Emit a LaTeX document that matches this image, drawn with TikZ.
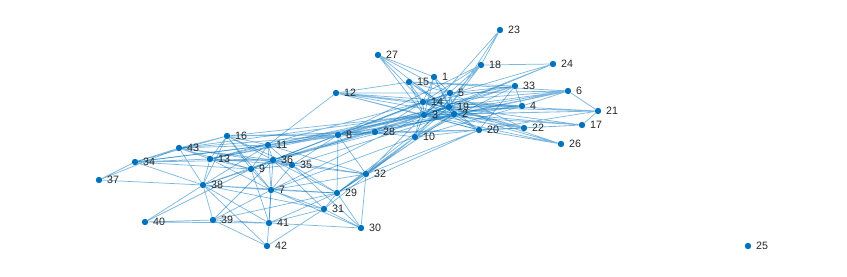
\documentclass[tikz,border=0pt]{standalone}
\usepackage{fontspec}
\setmainfont{Liberation Sans}
\usepackage{tikz}
\definecolor{nodeblue}{RGB}{0,114,189}
\definecolor{labelgray}{RGB}{38,38,38}
\pgfdeclarelayer{background}
\pgfsetlayers{background,main}

\begin{document}
\begin{tikzpicture}[x=0.75pt, y=-0.75pt,
  vertex/.style={circle, fill=nodeblue, inner sep=0pt, minimum size=4.8pt, label distance=-0.5pt},
  link/.style={nodeblue, draw opacity=0.5, line width=0.55pt},
  every label/.style={font=\fontsize{8}{9.5}\selectfont, text=labelgray}]
  \useasboundingbox (0,0) rectangle (847,276);
  % upper group
  \node[vertex, label={right:1}] (v1) at (434,77) {};
  \node[vertex, label={right:2}] (v2) at (454,114) {};
  \node[vertex, label={right:3}] (v3) at (424,115) {};
  \node[vertex, label={right:4}] (v4) at (522,106) {};
  \node[vertex, label={right:5}] (v5) at (450,93) {};
  \node[vertex, label={right:6}] (v6) at (568,91) {};
  \node[vertex, label={right:8}] (v8) at (338,135) {};
  \node[vertex, label={right:10}] (v10) at (415,137) {};
  \node[vertex, label={right:12}] (v12) at (336,93) {};
  \node[vertex, label={right:14}] (v14) at (423,102) {};
  \node[vertex, label={right:15}] (v15) at (409,82) {};
  \node[vertex, label={right:17}] (v17) at (582,125) {};
  \node[vertex, label={right:18}] (v18) at (481,65) {};
  \node[vertex, label={right:19}] (v19) at (449,107) {};
  \node[vertex, label={right:20}] (v20) at (479,130) {};
  \node[vertex, label={right:21}] (v21) at (598,111) {};
  \node[vertex, label={right:22}] (v22) at (524,128) {};
  \node[vertex, label={right:23}] (v23) at (500,30) {};
  \node[vertex, label={right:24}] (v24) at (553,64) {};
  \node[vertex, label={right:26}] (v26) at (561,144) {};
  \node[vertex, label={right:27}] (v27) at (378,55) {};
  \node[vertex, label={right:28}] (v28) at (375,132) {};
  \node[vertex, label={right:33}] (v33) at (515,86) {};
  % lower group
  \node[vertex, label={right:7}] (v7) at (271,190) {};
  \node[vertex, label={right:9}] (v9) at (251,169) {};
  \node[vertex, label={right:11}] (v11) at (268,145) {};
  \node[vertex, label={right:13}] (v13) at (210,159) {};
  \node[vertex, label={right:16}] (v16) at (227,136) {};
  \node[vertex, label={right:29}] (v29) at (337,193) {};
  \node[vertex, label={right:30}] (v30) at (361,228) {};
  \node[vertex, label={right:31}] (v31) at (324,209) {};
  \node[vertex, label={right:32}] (v32) at (366,174) {};
  \node[vertex, label={right:34}] (v34) at (135,162) {};
  \node[vertex, label={right:35}] (v35) at (292,165) {};
  \node[vertex, label={right:36}] (v36) at (273,160) {};
  \node[vertex, label={right:37}] (v37) at (99,180) {};
  \node[vertex, label={right:38}] (v38) at (203,185) {};
  \node[vertex, label={right:39}] (v39) at (213,220) {};
  \node[vertex, label={right:40}] (v40) at (145,222) {};
  \node[vertex, label={right:41}] (v41) at (269,223) {};
  \node[vertex, label={right:42}] (v42) at (267,246) {};
  \node[vertex, label={right:43}] (v43) at (179,148) {};
  % isolated
  \node[vertex, label={right:25}] (v25) at (748,246) {};
  \begin{pgfonlayer}{background}
  % core of the upper group
  \draw[link] (v3)--(v14) (v3)--(v19) (v3)--(v2) (v3)--(v5) (v14)--(v19) (v14)--(v5) (v19)--(v2) (v2)--(v5) (v14)--(v2) (v19)--(v5) (v3)--(v10) (v14)--(v10) (v2)--(v10) (v19)--(v10);
  \draw[link] (v1)--(v14) (v1)--(v3) (v1)--(v5) (v1)--(v19) (v1)--(v2) (v27)--(v1) (v27)--(v14) (v27)--(v3) (v27)--(v5) (v27)--(v2);
  \draw[link] (v15)--(v12) (v15)--(v14) (v15)--(v3) (v15)--(v5) (v15)--(v19) (v15)--(v2) (v15)--(v6) (v15)--(v33);
  \draw[link] (v12)--(v14) (v12)--(v3) (v12)--(v19) (v12)--(v2) (v12)--(v5) (v12)--(v11) (v12)--(v4) (v12)--(v20);
  \draw[link] (v23)--(v18) (v23)--(v19) (v23)--(v3) (v18)--(v24) (v18)--(v14) (v18)--(v3) (v18)--(v19) (v18)--(v10) (v18)--(v8) (v24)--(v3) (v24)--(v19) (v24)--(v14);
  \draw[link] (v33)--(v4) (v33)--(v20) (v33)--(v5) (v33)--(v14) (v33)--(v3) (v33)--(v19) (v33)--(v8) (v33)--(v10);
  \draw[link] (v6)--(v21) (v6)--(v5) (v6)--(v14) (v6)--(v3) (v6)--(v19) (v6)--(v4) (v6)--(v2) (v6)--(v28);
  \draw[link] (v4)--(v14) (v4)--(v19) (v4)--(v2) (v4)--(v3) (v4)--(v8) (v4)--(v10);
  \draw[link] (v21)--(v17) (v21)--(v19) (v21)--(v2) (v21)--(v3) (v21)--(v14) (v21)--(v20) (v17)--(v2) (v17)--(v19) (v17)--(v20) (v17)--(v3) (v17)--(v22);
  \draw[link] (v22)--(v2) (v22)--(v19) (v22)--(v3) (v22)--(v20) (v22)--(v14) (v22)--(v5) (v26)--(v2) (v26)--(v19) (v26)--(v20) (v26)--(v3);
  \draw[link] (v20)--(v2) (v20)--(v19) (v20)--(v3) (v20)--(v14) (v20)--(v8) (v20)--(v28) (v20)--(v29) (v20)--(v10) (v20)--(v32);
  \draw[link] (v8)--(v3) (v8)--(v14) (v8)--(v2) (v8)--(v19) (v8)--(v28) (v8)--(v5) (v28)--(v3) (v28)--(v2) (v28)--(v19) (v28)--(v10) (v28)--(v14);
  \draw[link] (v10)--(v7) (v10)--(v32) (v10)--(v29) (v10)--(v31);
  % links between the groups
  \draw[link] (v8)--(v11) (v8)--(v16) (v8)--(v36) (v8)--(v43) (v8)--(v32) (v8)--(v29) (v8)--(v9) (v8)--(v35) (v8)--(v13) (v28)--(v36) (v28)--(v11) (v28)--(v34) (v28)--(v16);
  \draw[link] (v3)--(v11) (v3)--(v36) (v3)--(v9) (v3)--(v16) (v3)--(v43) (v2)--(v36) (v2)--(v35) (v19)--(v11) (v19)--(v9) (v14)--(v36) (v3)--(v7) (v2)--(v32) (v3)--(v32) (v19)--(v29) (v14)--(v13) (v3)--(v13) (v2)--(v29);
  % lower group
  \draw[link] (v16)--(v43) (v16)--(v13) (v16)--(v38) (v16)--(v9) (v16)--(v36) (v16)--(v11) (v16)--(v7) (v16)--(v34) (v16)--(v35);
  \draw[link] (v11)--(v43) (v11)--(v36) (v11)--(v9) (v11)--(v7) (v11)--(v38) (v11)--(v13) (v11)--(v35) (v11)--(v32) (v11)--(v34);
  \draw[link] (v43)--(v34) (v43)--(v13) (v43)--(v36) (v43)--(v38) (v43)--(v9) (v43)--(v35) (v43)--(v37) (v34)--(v37) (v34)--(v13) (v34)--(v36) (v34)--(v38) (v34)--(v9) (v37)--(v38);
  \draw[link] (v13)--(v38) (v13)--(v36) (v13)--(v9) (v13)--(v35) (v13)--(v7);
  \draw[link] (v36)--(v35) (v36)--(v9) (v36)--(v7) (v36)--(v38) (v36)--(v32) (v36)--(v41) (v36)--(v31) (v36)--(v29) (v36)--(v39);
  \draw[link] (v35)--(v32) (v35)--(v29) (v35)--(v7) (v35)--(v9) (v35)--(v30) (v9)--(v38) (v9)--(v7) (v9)--(v40) (v9)--(v41);
  \draw[link] (v38)--(v7) (v38)--(v39) (v38)--(v40) (v38)--(v41) (v38)--(v29) (v38)--(v31) (v38)--(v42);
  \draw[link] (v7)--(v29) (v7)--(v41) (v7)--(v31) (v7)--(v30) (v7)--(v39) (v7)--(v32);
  \draw[link] (v29)--(v32) (v29)--(v31) (v29)--(v39) (v29)--(v41) (v29)--(v30) (v31)--(v41) (v31)--(v30) (v31)--(v42) (v30)--(v32) (v30)--(v41);
  \draw[link] (v40)--(v39) (v40)--(v41) (v39)--(v41) (v39)--(v42) (v41)--(v42);
  \end{pgfonlayer}
\end{tikzpicture}
\end{document}
